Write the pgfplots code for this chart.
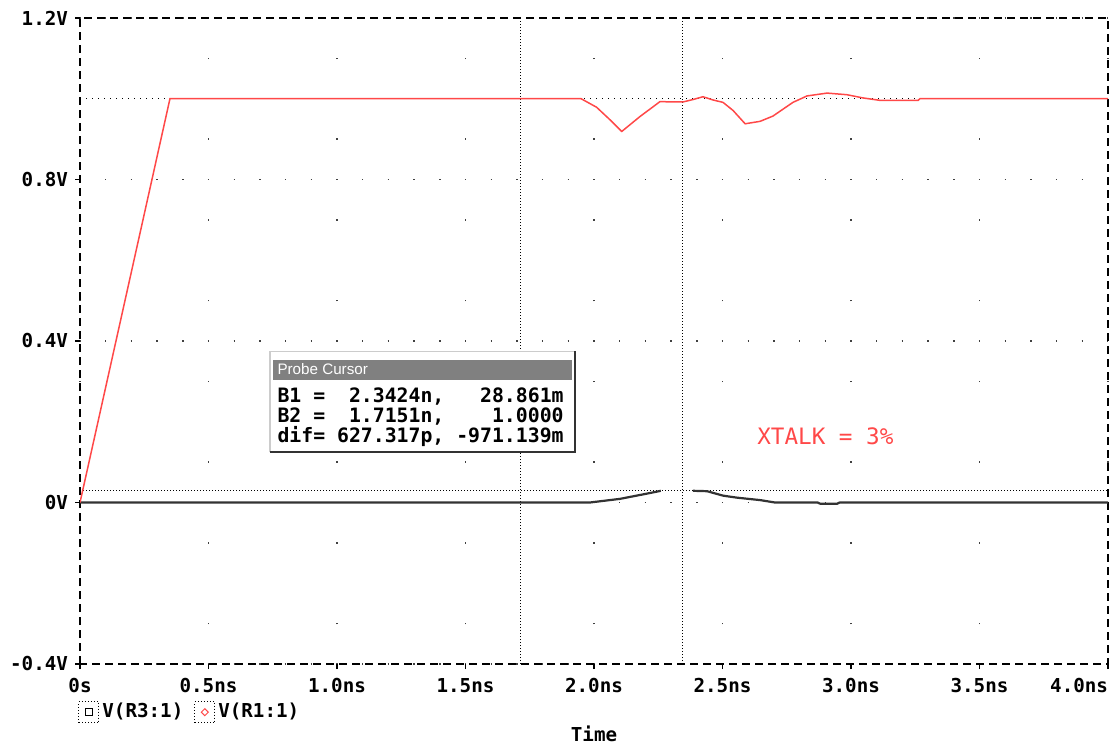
\documentclass[border=0pt]{standalone}
\usepackage{fontspec}
\setmainfont{DejaVu Sans}
\newfontfamily\psmono{DejaVu Sans Mono}
\newfontfamily\winfont{Liberation Sans}
\usepackage{pgfplots}
\pgfplotsset{compat=1.18}

\definecolor{tracered}{RGB}{255,72,72}
\definecolor{titlegray}{RGB}{128,128,128}
\newcommand\tickfont{\psmono\bfseries\fontsize{9.6}{11}\selectfont}
\newcommand\boxfont{\psmono\bfseries\fontsize{9.9}{11}\selectfont}

\begin{document}
\begin{tikzpicture}
\begin{axis}[
  name=ax,
  scale only axis,
  width=514pt, height=323pt,
  xmin=0, xmax=4, ymin=-0.4, ymax=1.2,
  xtick={0,0.5,1,1.5,2,2.5,3,3.5,4},
  xticklabels={0s,0.5ns,1.0ns,1.5ns,2.0ns,2.5ns,3.0ns,3.5ns,\makebox[0pt][r]{4.0ns}},
  ytick={-0.4,0,0.4,0.8,1.2},
  yticklabels={-0.4V,0V,0.4V,0.8V,1.2V},
  tick align=outside,
  tick pos=left,
  major tick length=2.5pt,
  tick style={black, line width=0.8pt, solid},
  axis line style={black, line width=0.9pt, dash pattern=on 4pt off 2.5pt},
  grid=major,
  x grid style={black!75, line width=0.7pt, dash pattern=on 0.7pt off 39.675pt, dash phase=20.54pt},
  y grid style={black!75, line width=0.7pt, dash pattern=on 0.7pt off 12.15pt, dash phase=0.35pt},
  ticklabel style={font=\tickfont},
  xticklabel style={yshift=-1pt},
  xlabel={Time},
  xlabel style={font=\tickfont, at={(axis description cs:0.5,0)}, anchor=north, yshift=-27.5pt},
  legend style={draw=none, fill=none, at={(0,0)}, anchor=north west,
    xshift=-1pt, yshift=-18pt, font=\tickfont, inner sep=0pt,
    nodes={inner sep=1.5pt},
    /tikz/every even column/.append style={column sep=4pt}},
  legend columns=2,
  legend cell align=left,
  unbounded coords=jump,
]
% cursor lines
\addplot[forget plot, black, line width=0.5pt, dash pattern=on 0.5pt off 1pt] coordinates {(1.7151,-0.4) (1.7151,1.2)};
\addplot[forget plot, black, line width=0.5pt, dash pattern=on 0.5pt off 1pt] coordinates {(2.3424,-0.4) (2.3424,1.2)};
\addplot[forget plot, black, line width=0.5pt, dash pattern=on 0.6pt off 2.4pt] coordinates {(0,1) (4,1)};
\addplot[forget plot, black, line width=0.5pt, dash pattern=on 0.5pt off 1pt] coordinates {(0,0.028861) (4,0.028861)};

% V(R3:1)
\addplot[black!80, line width=1.1pt,
  legend image code/.code={
    \draw[black, line width=0.5pt, dash pattern=on 0.5pt off 1pt] (0pt,-5.25pt) rectangle (10pt,5.25pt);
    \draw[black, line width=0.6pt, solid] (3.25pt,-1.75pt) rectangle (6.75pt,1.75pt);
  }] coordinates {
  (0,0) (1.984,0) (2.101,0.009) (2.206,0.022) (2.245,0.027) (2.26,0.029)
  (2.30,nan)
  (2.385,0.029) (2.44,0.028) (2.502,0.017) (2.556,0.012) (2.646,0.006)
  (2.704,0) (2.87,0) (2.88,-0.003) (2.946,-0.003) (2.956,0) (4.0,0)
};
\addlegendentry{V(R3:1)}

% V(R1:1)
\addplot[tracered, line width=0.75pt,
  legend image code/.code={
    \draw[black, line width=0.5pt, dash pattern=on 0.5pt off 1pt] (0pt,-5.25pt) rectangle (10pt,5.25pt);
    \draw[tracered, line width=0.5pt, solid] (5pt,-1.75pt) -- (6.75pt,0pt) -- (5pt,1.75pt) -- (3.25pt,0pt) -- cycle;
  }] coordinates {
  (0,0) (0.35,1.0) (1.95,1.0) (2.01,0.979) (2.062,0.948) (2.108,0.919)
  (2.179,0.956) (2.257,0.993) (2.307,0.992) (2.346,0.992) (2.385,0.998)
  (2.424,1.005) (2.463,0.997) (2.502,0.991) (2.541,0.971) (2.588,0.938)
  (2.646,0.944) (2.696,0.957) (2.774,0.991) (2.829,1.007) (2.907,1.014)
  (2.984,1.010) (3.047,1.002) (3.113,0.996) (3.261,0.996) (3.268,1.0) (4.0,1.0)
};
\addlegendentry{V(R1:1)}

% probe cursor window
\fill[white] (axis cs:0.739,0.124) rectangle (axis cs:1.926,0.374);
\draw[black!20, line width=0.6pt] (axis cs:0.739,0.124) -- (axis cs:0.739,0.374) -- (axis cs:1.926,0.374);
\draw[black!80, line width=1pt] (axis cs:0.739,0.124) -- (axis cs:1.926,0.124) -- (axis cs:1.926,0.374);
\fill[titlegray] (axis cs:0.751,0.304) rectangle (axis cs:1.914,0.354);
\node[anchor=west, inner sep=0pt, text=white, font=\winfont\fontsize{7.6}{9}\selectfont] at (axis cs:0.767,0.330) {Probe Cursor};
\node[anchor=west, inner sep=0pt, font=\boxfont] at (axis cs:0.767,0.262) {B1~=~~2.3424n,~~~28.861m};
\node[anchor=west, inner sep=0pt, font=\boxfont] at (axis cs:0.767,0.213) {B2~=~~1.7151n,~~~~1.0000};
\node[anchor=west, inner sep=0pt, font=\boxfont] at (axis cs:0.767,0.163) {dif=~627.317p,~-971.139m};

\node[anchor=west, inner sep=0pt, text=tracered, font=\psmono\fontsize{11.3}{13}\selectfont] at (axis cs:2.634,0.163) {XTALK = 3\%};
\end{axis}
\pgfresetboundingbox
\path ([shift={(-40pt,-40pt)}]ax.south west) rectangle ([shift={(4pt,9pt)}]ax.north east);
\end{tikzpicture}
\end{document}
